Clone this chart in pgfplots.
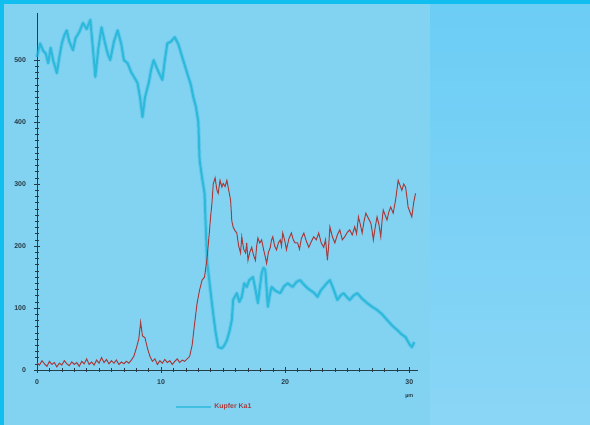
\documentclass[border=0pt]{standalone}
\usepackage{pgfplots}
\pgfplotsset{compat=1.18}
\usepackage{fontspec}
\setmainfont{Liberation Sans}
\definecolor{bgmain}{RGB}{130,211,242}
\definecolor{bgrtop}{RGB}{108,205,245}
\definecolor{bgrbot}{RGB}{138,214,246}
\definecolor{framec}{RGB}{16,190,240}
\definecolor{cyanline}{RGB}{22,178,214}
\definecolor{redline}{RGB}{165,60,62}
\definecolor{axisc}{RGB}{40,60,70}
\begin{document}
\begin{tikzpicture}
\useasboundingbox (0,0) rectangle (590bp,425bp);
\fill[bgmain] (0,0) rectangle (590bp,425bp);
\shade[top color=bgrtop, bottom color=bgrbot] (430bp,0) rectangle (590bp,421bp);
\fill[framec] (0,421bp) rectangle (590bp,425bp);
\fill[framec] (0,0) rectangle (4bp,425bp);
\pgfplotstableread{
x y
0 505
0.25 527
0.5 515
0.7 511
0.9 495
1.1 520
1.3 500
1.6 479
1.8 505
2.0 527
2.2 540
2.4 548
2.6 530
2.9 516
3.1 535
3.4 545
3.7 560
4.0 550
4.3 565
4.5 520
4.7 473
4.95 520
5.2 553
5.45 530
5.7 510
5.9 500
6.2 530
6.5 548
6.8 525
7.0 500
7.3 495
7.6 480
7.9 470
8.1 463
8.3 440
8.5 408
8.7 440
9.0 463
9.2 485
9.4 500
9.7 485
10.1 468
10.3 500
10.5 527
10.8 530
11.1 537
11.4 525
11.7 505
12.1 479
12.4 460
12.6 440
12.8 425
13.0 400
13.1 339
13.3 310
13.5 285
13.6 230
13.7 177
13.85 150
14.0 124
14.2 90
14.4 60
14.6 37
14.9 35
15.1 40
15.3 48
15.5 62
15.7 81
15.8 113
16.1 124
16.3 110
16.5 118
16.7 140
16.9 134
17.1 145
17.4 150
17.6 130
17.8 108
18.0 140
18.1 156
18.25 165
18.4 161
18.6 102
18.75 120
18.9 134
19.2 128
19.6 124
19.9 135
20.2 140
20.6 134
20.9 142
21.2 145
21.5 138
21.8 132
22.0 129
22.3 125
22.6 118
22.85 128
23.1 134
23.35 140
23.6 145
23.9 130
24.2 113
24.45 120
24.7 124
24.95 118
25.2 113
25.5 120
25.8 124
26.2 115
26.6 108
27.0 102
27.4 97
27.8 90
28.2 81
28.6 72
29.0 65
29.35 58
29.7 53
30.0 42
30.2 37
30.4 45
}\cyandata
\begin{axis}[
  scale only axis,
  width=381bp, height=357bp,
  at={(37bp,55bp)}, anchor=south west,
  xmin=0, xmax=30.7, ymin=0, ymax=576,
  axis lines=left,
  axis line style={-, axisc, line width=0.8pt},
  xtick={0,10,20,30}, ytick={0,100,200,300,400,500},
  minor x tick num=9, minor y tick num=9,
  tick align=center,
  major tick length=5bp, minor tick length=3bp,
  tick style={axisc, line width=0.6pt},
  minor tick style={axisc, line width=0.5pt},
  /pgf/number format/assume math mode=true,
  ticklabel style={font=\fontsize{7}{8}\selectfont\bfseries, text=axisc},
  xticklabel style={yshift=-4bp},
  yticklabel style={xshift=-5bp},
  clip=false,
  legend style={draw=none, fill=none, at={(0.465,-0.104)}, anchor=center,
    font=\fontsize{7}{8}\selectfont\bfseries},
  legend image code/.code={\draw[#1] (0bp,0bp) -- (35bp,0bp);},
]
\addplot[cyanline, line width=4pt, opacity=0.25, line join=round, forget plot] table {\cyandata};
\addplot[cyanline, line width=2pt, opacity=0.7, line join=round, forget plot] table {\cyandata};
\addplot[redline, line width=1pt, forget plot] coordinates {
(0,12) (0.2,8) (0.4,15) (0.6,10) (0.8,6) (1.0,14) (1.2,9) (1.4,12) (1.6,5) (1.8,11) (2.0,8) (2.2,15)
(2.4,10) (2.6,7) (2.8,13) (3.0,9) (3.2,12) (3.4,6) (3.6,14) (3.8,10) (4.0,18) (4.2,9) (4.4,13) (4.6,8)
(4.8,16) (5.0,11) (5.2,20) (5.4,12) (5.6,17) (5.8,10) (6.0,15) (6.2,11) (6.4,16) (6.6,9) (6.8,13)
(7.0,10) (7.2,14) (7.4,11) (7.6,16) (7.8,22) (8.0,35) (8.2,50) (8.35,77) (8.5,55) (8.7,52) (8.9,35)
(9.1,22) (9.3,14) (9.5,18) (9.7,9) (9.9,15) (10.1,11) (10.3,17) (10.5,12) (10.7,15) (10.9,9) (11.1,14)
(11.3,18) (11.5,12) (11.7,16) (11.9,14) (12.1,18) (12.3,22) (12.5,40) (12.7,75) (12.9,108) (13.1,129)
(13.3,145) (13.5,150) (13.7,180) (13.9,225) (14.0,250) (14.1,270) (14.2,300) (14.35,310) (14.5,290)
(14.6,285) (14.75,306) (14.9,295) (15.0,301) (15.15,296) (15.3,306) (15.45,290) (15.6,274) (15.7,240)
(15.8,231) (15.95,225) (16.1,221) (16.25,200) (16.4,189) (16.5,215) (16.65,195) (16.8,189) (16.9,205)
(17.0,177) (17.15,190) (17.3,198) (17.45,185) (17.6,177) (17.7,200) (17.8,213) (17.95,205) (18.1,210)
(18.25,195) (18.4,182) (18.5,172) (18.65,190) (18.8,198) (18.9,210) (19.0,215) (19.15,200) (19.3,194)
(19.45,205) (19.6,210) (19.7,200) (19.8,221) (19.95,210) (20.1,194) (20.3,212) (20.5,221) (20.65,210)
(20.8,205) (21.0,205) (21.15,195) (21.3,212) (21.5,221) (21.7,208) (21.9,198) (22.1,207) (22.3,215)
(22.5,210) (22.7,221) (22.9,205) (23.1,198) (23.25,210) (23.4,177) (23.5,200) (23.6,231) (23.8,215)
(24.0,205) (24.2,218) (24.4,226) (24.6,210) (24.8,215) (25.0,222) (25.2,226) (25.4,218) (25.6,231)
(25.75,220) (25.9,247) (26.05,235) (26.2,221) (26.35,240) (26.5,253) (26.7,245) (26.9,237) (27.0,225)
(27.1,210) (27.25,230) (27.4,247) (27.55,235) (27.7,215) (27.8,240) (27.9,258) (28.05,250) (28.2,242)
(28.35,255) (28.5,263) (28.6,258) (28.7,253) (28.9,275) (29.1,306) (29.25,298) (29.4,290) (29.55,300)
(29.7,295) (29.8,280) (29.9,263) (30.05,255) (30.2,247) (30.35,270) (30.5,285)
};
\addlegendimage{cyanline, line width=2.5pt, opacity=0.6}
\addlegendentry{\textcolor{redline}{Kupfer Ka1}}
\node[font=\fontsize{5.5}{6}\selectfont\bfseries, text=axisc] at (axis cs:30,0) [yshift=-27bp] {µm};
\end{axis}
\end{tikzpicture}
\end{document}
